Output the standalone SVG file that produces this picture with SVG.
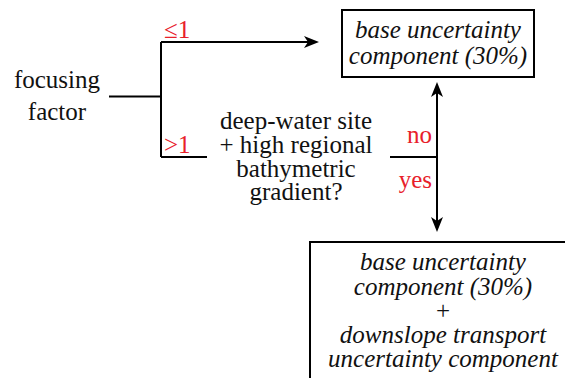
<svg xmlns="http://www.w3.org/2000/svg" width="565" height="378" viewBox="0 0 565 378">
<style>
.t{font-family:'Liberation Serif',serif;font-size:25px;fill:#111}
.c{text-anchor:middle}
.i{font-style:italic}
.r{fill:#e8202a}
.ln{stroke:#000;stroke-width:2;fill:none}
.ah{fill:#000}
.box{stroke:#000;stroke-width:2;fill:#fff}
</style>
<g id="connectors">
<path class="ln" d="M109,96.5 H161"/>
<path class="ln" d="M161,42 V157"/>
<path class="ln" d="M161,42 H310"/>
<path class="ah" d="M319,42 L304,36 L308,42 L304,48 Z"/>
<path class="ln" d="M161,157 H207"/>
<path class="ln" d="M390,157 H437"/>
<path class="ln" d="M437,157 V90"/>
<path class="ah" d="M437,82 L431,97 L437,93 L443,97 Z"/>
<path class="ln" d="M437,157 V224"/>
<path class="ah" d="M437,232 L431,217 L437,221 L443,217 Z"/>
<text class="t r" font-family="Liberation Serif" x="164" y="38">≤1</text>
<text class="t r" font-family="Liberation Serif" x="164" y="153">&gt;1</text>
<text class="t r" font-family="Liberation Serif" x="432" y="143" text-anchor="end">no</text>
<text class="t r" font-family="Liberation Serif" x="432" y="188" text-anchor="end">yes</text>
</g>
<g id="focusing">
<text class="t c" font-family="Liberation Serif" x="57" y="88">focusing</text>
<text class="t c" font-family="Liberation Serif" x="57" y="120">factor</text>
</g>
<g id="question">
<text class="t c" font-family="Liberation Serif" x="296" y="129">deep-water site</text>
<text class="t c" font-family="Liberation Serif" x="296" y="153">+ high regional</text>
<text class="t c" font-family="Liberation Serif" x="296" y="177">bathymetric</text>
<text class="t c" font-family="Liberation Serif" x="296" y="200">gradient?</text>
</g>
<g id="base">
<rect class="box" x="342" y="10" width="192" height="67"/>
<text class="t c i" font-family="Liberation Serif" x="438" y="38">base uncertainty</text>
<text class="t c i" font-family="Liberation Serif" x="438" y="64">component (30%)</text>
</g>
<g id="combined">
<rect class="box" x="310" y="242" width="270" height="150"/>
<text class="t c i" font-family="Liberation Serif" x="443" y="270">base uncertainty</text>
<text class="t c i" font-family="Liberation Serif" x="443" y="295">component (30%)</text>
<text class="t c" font-family="Liberation Serif" x="443" y="319">+</text>
<text class="t c i" font-family="Liberation Serif" x="443" y="343">downslope transport</text>
<text class="t c i" font-family="Liberation Serif" x="443" y="367">uncertainty component</text>
</g>
</svg>
